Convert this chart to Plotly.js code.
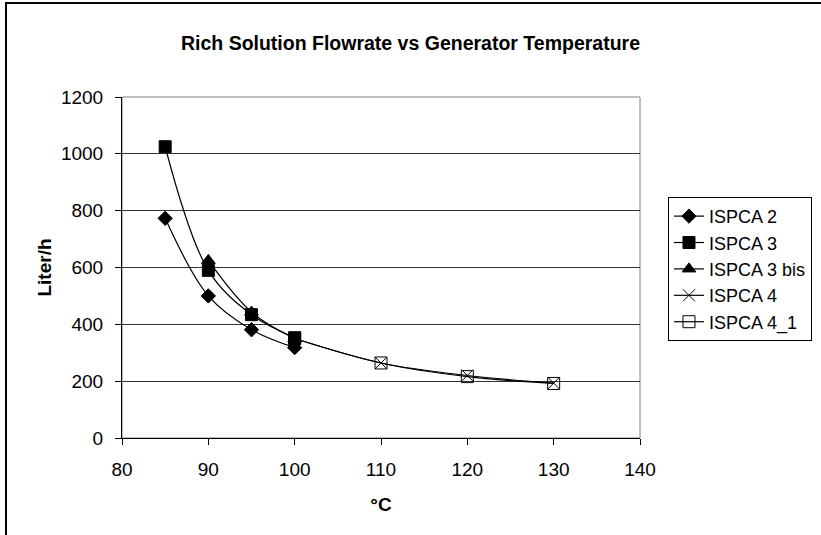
<!DOCTYPE html>
<html>
<head>
<meta charset="utf-8">
<script src="https://cdn.plot.ly/plotly-3.0.1.min.js"></script>
<style>
html,body{margin:0;padding:0;background:#fff;}
#wrap{position:relative;width:821px;height:535px;overflow:hidden;}
#chart{position:absolute;left:0;top:0;width:821px;height:535px;}
#frame{position:absolute;left:5px;top:2px;width:900px;height:900px;border-left:2px solid #000;border-top:2px solid #000;pointer-events:none;}
</style>
</head>
<body>
<div id="wrap"><div id="chart"></div><div id="frame"></div></div>
<script>
const seriesNames = ["ISPCA 2", "ISPCA 3", "ISPCA 3 bis", "ISPCA 4", "ISPCA 4_1"];
const x_ispca2 = [85, 90, 95, 100];
const y_ispca2 = [773, 500, 381, 318];
const x_ispca3 = [85, 90, 95, 100];
const y_ispca3 = [1025, 590, 434, 353];
const x_ispca3bis = [90, 95, 100];
const y_ispca3bis = [625, 443, 350];
const x_ispca4 = [100, 110, 120, 130];
const y_ispca4 = [350, 264, 220, 193];
const x_ispca41 = [100, 110, 120, 130];
const y_ispca41 = [350, 264, 216, 192];
const yTicks = [0, 200, 400, 600, 800, 1000, 1200];
const xTicks = [80, 90, 100, 110, 120, 130, 140];

const symbols = ["diamond", "square", "triangle-up", "x-thin-open", "square-open"];
const sizes = [11, 12, 12, 12, 12];
const xs = [x_ispca2, x_ispca3, x_ispca3bis, x_ispca4, x_ispca41];
const ys = [y_ispca2, y_ispca3, y_ispca3bis, y_ispca4, y_ispca41];

const traces = seriesNames.map((n, i) => ({
  type: "scatter",
  mode: "lines+markers",
  name: n,
  x: xs[i],
  y: ys[i],
  legendgroup: "g" + i,
  line: {color: "#000", width: 1.2, shape: "spline", smoothing: 1},
  marker: {symbol: symbols[i], size: sizes[i], color: "#000",
           line: {color: "#000", width: 1}}
}));

const FF = "Liberation Sans, Arial, sans-serif";
const FS = 19;

const layout = {
  width: 821, height: 535,
  margin: {l: 122, r: 181, t: 97, b: 97, autoexpand: false},
  paper_bgcolor: "#fff", plot_bgcolor: "#fff",
  font: {family: FF, color: "#000", size: FS},
  showlegend: true,
  title: {text: "<b>Rich Solution Flowrate vs Generator Temperature</b>",
          x: 0.5, xanchor: "center", y: 0.92, yanchor: "middle",
          font: {family: FF, size: 19.5, color: "#000"}},
  xaxis: {
    range: [80, 140], tickvals: xTicks, ticktext: xTicks.map(String),
    ticks: "outside", ticklen: 6, tickcolor: "#000", tickwidth: 1,
    ticklabelstandoff: 8,
    showline: true, linecolor: "#000", linewidth: 1, mirror: false,
    showgrid: false, zeroline: false,
    tickfont: {size: FS},
    title: {text: "<b>°C</b>", standoff: 18, font: {size: FS}}
  },
  yaxis: {
    range: [0, 1200], tickvals: yTicks, ticktext: yTicks.map(String),
    ticks: "outside", ticklen: 6, tickcolor: "#000", tickwidth: 1,
    ticklabelstandoff: 8,
    showline: true, linecolor: "#000", linewidth: 1,
    showgrid: true, gridcolor: "#333", gridwidth: 1, zeroline: false,
    tickfont: {size: FS},
    title: {text: "<b>Liter/h</b>", standoff: 4, font: {size: FS}}
  },
  shapes: [
    {type: "rect", xref: "paper", yref: "paper", x0: 0, x1: 1, y0: 0, y1: 1,
     line: {color: "#808080", width: 1}, fillcolor: "rgba(0,0,0,0)", layer: "below"}
  ],
  legend: {
    x: 1.054, y: 0.707, xanchor: "left", yanchor: "top",
    bgcolor: "#fff", bordercolor: "#000", borderwidth: 1,
    font: {family: FF, size: 18, color: "#000"},
    tracegroupgap: 0, itemwidth: 30
  }
};

Plotly.newPlot("chart", traces, layout, {displayModeBar: false, staticPlot: true});
</script>
</body>
</html>
